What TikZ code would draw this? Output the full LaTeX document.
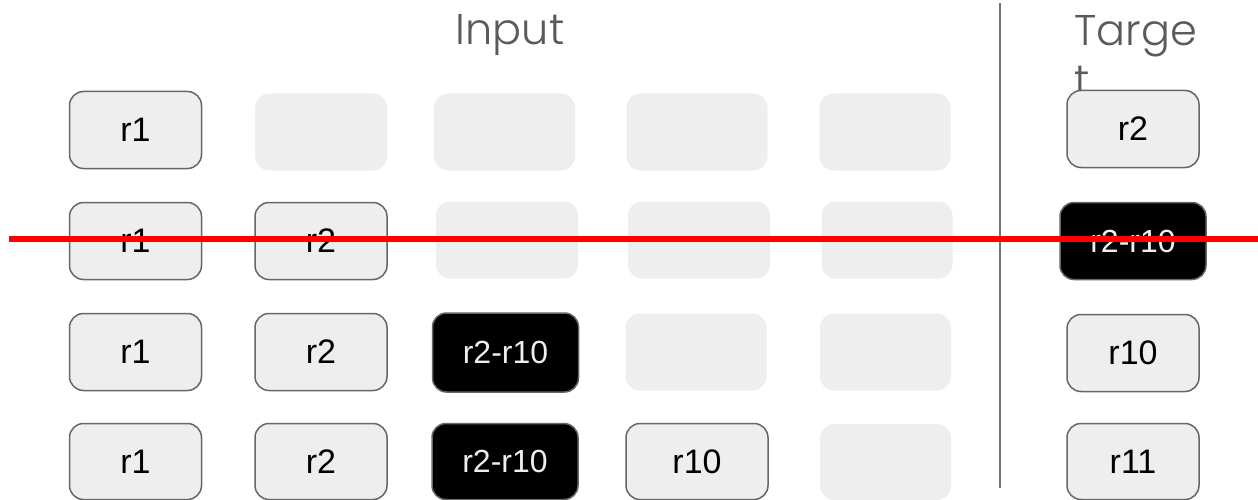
\documentclass[tikz,border=0pt]{standalone}
\usepackage{fontspec}
\setmainfont{Liberation Sans}
\newfontfamily\titlefont{Poppins Light}
\usetikzlibrary{positioning}

\definecolor{slotgray}{HTML}{EEEEEE}
\definecolor{edgegray}{HTML}{666666}
\definecolor{titlegray}{HTML}{5A5A5A}

\tikzset{
    slot/.style={rectangle, rounded corners=14pt, minimum width=132pt, minimum height=77pt,
                 inner sep=0pt, font=\fontsize{34}{40}\selectfont},
    token/.style={slot, fill=slotgray, draw=edgegray, line width=1.5pt},
    ghost/.style={slot, fill=slotgray},
    span/.style={slot, fill=black, draw=edgegray, line width=1.5pt, text=slotgray, minimum width=146pt,
                 font=\fontsize{32}{38}\selectfont},
    heading/.style={font=\titlefont\fontsize{43}{45}\selectfont, text=titlegray, inner sep=0pt},
}

\begin{document}
\begin{tikzpicture}[x=1pt, y=-1pt]
    \useasboundingbox (0,0) rectangle (1258,500);

    % headings
    \node[heading, anchor=base] (input) at (510,45) {Input};
    \node[heading, anchor=base west] (target) at (1074,46) {Targe};
    \node[heading, anchor=base west] (targetwrap) at (1074,96) {t};

    % row 1
    \node[token] (a1) at (135.5,130) {r1};
    \node[ghost] (a2) at (321,132) {};
    \node[ghost, minimum width=141pt] (a3) at (504.5,132) {};
    \node[ghost, minimum width=141pt] (a4) at (697,132) {};
    \node[ghost, minimum width=131pt] (a5) at (885,132) {};

    % row 2
    \node[token] (b1) at (135.5,241) {r1};
    \node[token] (b2) at (321,241) {r2};
    \node[ghost, minimum width=142pt] (b3) at (507,240) {};
    \node[ghost, minimum width=142pt] (b4) at (699,240) {};
    \node[ghost, minimum width=131pt] (b5) at (887,240) {};

    % row 3
    \node[token] (c1) at (135.5,352) {r1};
    \node[token] (c2) at (321,352) {r2};
    \node[span, minimum height=79pt] (c3) at (505.5,352.5) {r2-r10};
    \node[ghost, minimum width=141pt] (c4) at (696,352) {};
    \node[ghost, minimum width=131pt] (c5) at (885.5,352) {};

    % row 4
    \node[token, minimum height=76pt] (d1) at (135.5,461.5) {r1};
    \node[token, minimum height=76pt] (d2) at (321,461.5) {r2};
    \node[span, minimum height=76pt] (d3) at (505,461.5) {r2-r10};
    \node[token, minimum width=142pt, minimum height=76pt] (d4) at (697,461.5) {r10};
    \node[ghost, minimum width=131pt, minimum height=76pt] (d5) at (885.5,462) {};

    % target column
    \node[token] (t1) at (1133,129) {r2};
    \node[span] (t2) at (1133,241) {r2-r10};
    \node[token] (t3) at (1133,353) {r10};
    \node[token, minimum height=76pt] (t4) at (1133,461.5) {r11};

    % divider
    \coordinate (divtop) at (1000,3);
    \coordinate (divbot) at (1000,488);
    \draw[edgegray!90, line width=1.5pt] (divtop) -- (divbot);

    % strike line
    \coordinate (cutleft) at (9,239);
    \coordinate (cutright) at (1258,239);
    \draw[red, line width=6pt] (cutleft) -- (cutright);
\end{tikzpicture}
\end{document}
